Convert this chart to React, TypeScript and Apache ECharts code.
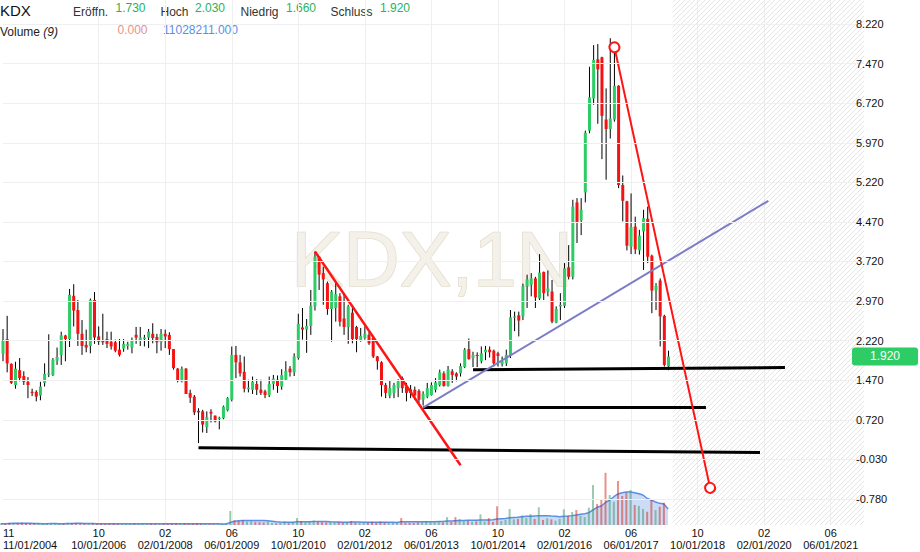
import React, { useEffect, useRef } from "react";
import * as echarts from "echarts";

const FONT = '"Liberation Sans", Arial, sans-serif';
const SYMBOL = "KDX";
const WATERMARK = "KDX,1N";
const START_YEAR = 2004;
const START_MONTH = 11;
const MONTH_COUNT = 208;
const LABEL_INDEXES = [0, 23, 39, 55, 71, 87, 103, 119, 135, 151, 167, 183, 199];
const Y_TICKS = [-0.78, -0.03, 0.72, 1.47, 2.22, 2.97, 3.72, 4.47, 5.22, 5.97, 6.72, 7.47, 8.22];
const HEADER_VOLUME = [0, 11028211];

const OPEN = [
  1.97, 2.25, 1.78, 1.38, 1.66, 1.55, 1.44, 1.25, 1.25, 1.18,
  1.42, 1.59, 1.57, 1.84, 1.95, 2.32, 2.25, 3.07, 2.80, 2.35,
  2.14, 2.12, 2.99, 2.30, 2.22, 2.25, 2.20, 2.19, 2.05, 2.07,
  2.12, 2.09, 2.33, 2.22, 2.25, 2.28, 2.35, 2.29, 2.19, 2.35,
  2.33, 2.06, 1.69, 1.45, 1.69, 1.23, 1.16, 0.89, 0.88, 0.58,
  0.87, 0.80, 0.75, 0.75, 0.90, 1.10, 1.95, 1.81, 1.63, 1.30,
  1.29, 1.40, 1.29, 1.26, 1.19, 1.40, 1.48, 1.35, 1.48, 1.69,
  1.62, 1.89, 2.47, 2.43, 2.50, 2.87, 3.81, 3.50, 3.31, 2.82,
  2.84, 3.06, 2.64, 2.48, 2.75, 2.48, 2.22, 2.27, 2.33, 2.27,
  1.92, 1.81, 1.38, 1.18, 1.23, 1.32, 1.51, 1.35, 1.30, 1.29,
  1.27, 1.10, 1.16, 1.19, 1.29, 1.38, 1.60, 1.36, 1.64, 1.60,
  1.60, 1.72, 2.06, 1.89, 1.95, 1.83, 2.00, 2.05, 2.03, 1.98,
  1.77, 1.79, 1.95, 2.66, 2.70, 2.68, 3.25, 3.28, 3.40, 3.02,
  3.52, 3.15, 3.15, 2.56, 2.87, 2.88, 3.61, 3.43, 4.84, 4.50,
  5.03, 6.20, 6.81, 7.55, 7.59, 6.41, 6.23, 6.41, 7.05, 5.17,
  4.86, 4.00, 4.38, 3.93, 4.29, 4.53, 3.83, 3.17, 3.36, 2.69,
  1.73,
];
const HIGH = [
  2.44, 2.69, 1.79, 1.82, 1.89, 1.64, 1.53, 1.31, 1.28, 1.44,
  1.79, 2.34, 1.89, 2.09, 2.39, 2.33, 3.20, 3.29, 2.99, 2.61,
  2.43, 3.02, 3.14, 2.49, 2.73, 2.39, 2.39, 2.24, 2.25, 2.25,
  2.20, 2.28, 2.48, 2.48, 2.33, 2.44, 2.55, 2.35, 2.44, 2.43,
  2.38, 2.06, 1.70, 1.73, 1.70, 1.29, 1.19, 0.94, 0.91, 0.88,
  0.92, 0.80, 0.78, 0.99, 1.15, 2.11, 2.12, 1.95, 1.92, 1.48,
  1.54, 1.49, 1.48, 1.29, 1.54, 1.57, 1.56, 1.68, 1.83, 1.74,
  1.98, 2.73, 2.84, 2.63, 3.18, 3.91, 3.82, 3.62, 3.34, 3.18,
  3.31, 3.12, 3.12, 2.90, 2.84, 2.50, 2.46, 2.49, 2.38, 2.30,
  1.93, 1.83, 1.42, 1.47, 1.42, 1.49, 1.54, 1.42, 1.38, 1.35,
  1.30, 1.26, 1.42, 1.43, 1.51, 1.67, 1.64, 1.74, 1.68, 1.62,
  1.79, 2.08, 2.26, 2.01, 2.00, 2.11, 2.12, 2.11, 2.05, 2.01,
  1.92, 2.05, 2.80, 2.77, 2.77, 3.30, 3.47, 3.50, 3.43, 3.86,
  3.53, 3.55, 3.37, 2.87, 3.12, 3.69, 4.03, 4.89, 4.92, 4.92,
  6.20, 7.41, 7.82, 7.84, 7.60, 7.00, 7.95, 7.78, 7.06, 5.35,
  4.87, 5.01, 4.57, 4.32, 4.70, 4.76, 3.85, 3.31, 3.40, 2.71,
  2.03,
];
const LOW = [
  1.83, 1.62, 1.40, 1.31, 1.45, 1.38, 1.13, 1.17, 1.07, 1.09,
  1.35, 1.53, 1.55, 1.76, 1.76, 1.83, 2.10, 2.49, 2.12, 1.95,
  2.00, 1.98, 2.16, 2.14, 2.14, 2.08, 2.05, 2.00, 1.92, 2.01,
  2.05, 1.98, 2.16, 2.12, 2.11, 2.08, 2.17, 1.98, 2.03, 2.08,
  1.95, 1.67, 1.43, 1.43, 1.21, 1.04, 0.81, 0.28, 0.48, 0.47,
  0.67, 0.67, 0.54, 0.73, 0.88, 1.07, 1.51, 1.54, 1.24, 1.24,
  1.21, 1.19, 1.19, 1.13, 1.15, 1.29, 1.23, 1.29, 1.46, 1.54,
  1.55, 1.86, 2.24, 1.99, 2.33, 2.79, 3.18, 2.90, 2.71, 2.20,
  2.58, 2.49, 2.33, 2.16, 2.17, 2.00, 2.20, 2.24, 2.14, 1.89,
  1.67, 1.16, 1.13, 1.13, 1.13, 1.15, 1.23, 1.07, 1.13, 1.10,
  1.04, 0.99, 1.13, 1.18, 1.24, 1.35, 1.35, 1.35, 1.42, 1.45,
  1.54, 1.70, 1.86, 1.72, 1.72, 1.79, 1.85, 1.90, 1.73, 1.73,
  1.73, 1.74, 1.89, 2.40, 2.30, 2.61, 2.84, 3.06, 2.84, 2.99,
  2.99, 3.06, 2.55, 2.55, 2.61, 2.84, 3.38, 3.38, 4.07, 4.22,
  4.84, 6.15, 6.69, 6.33, 5.66, 5.27, 6.05, 6.37, 5.11, 4.48,
  3.93, 3.86, 3.86, 3.85, 3.56, 3.69, 2.74, 2.80, 2.11, 1.73,
  1.66,
];
const CLOSE = [
  2.22, 1.79, 1.42, 1.69, 1.51, 1.44, 1.38, 1.24, 1.16, 1.35,
  1.59, 1.60, 1.86, 1.91, 2.32, 2.25, 3.09, 2.79, 2.35, 2.12,
  2.09, 2.99, 2.28, 2.20, 2.19, 2.16, 2.11, 2.03, 1.95, 2.16,
  2.15, 2.22, 2.28, 2.28, 2.28, 2.39, 2.27, 2.19, 2.35, 2.30,
  2.06, 1.70, 1.47, 1.69, 1.21, 1.14, 0.86, 0.86, 0.63, 0.77,
  0.84, 0.69, 0.76, 0.97, 1.13, 1.95, 1.81, 1.60, 1.31, 1.33,
  1.44, 1.29, 1.23, 1.19, 1.40, 1.50, 1.36, 1.57, 1.65, 1.62,
  1.92, 2.54, 2.43, 2.50, 2.88, 3.81, 3.47, 3.38, 2.82, 3.15,
  3.10, 2.58, 2.48, 2.87, 2.25, 2.25, 2.31, 2.35, 2.17, 1.92,
  1.83, 1.38, 1.23, 1.32, 1.38, 1.45, 1.32, 1.23, 1.23, 1.18,
  1.10, 1.21, 1.32, 1.38, 1.43, 1.62, 1.36, 1.67, 1.57, 1.54,
  1.74, 2.05, 1.87, 1.95, 1.93, 1.98, 2.05, 2.00, 1.79, 1.93,
  1.83, 1.95, 2.66, 2.68, 2.60, 3.25, 3.38, 3.40, 3.04, 3.51,
  3.12, 3.21, 2.58, 2.82, 2.90, 3.59, 3.43, 4.76, 4.46, 4.70,
  6.16, 6.83, 7.54, 7.36, 6.48, 6.23, 6.43, 7.05, 5.17, 4.87,
  4.02, 4.37, 3.95, 4.21, 4.54, 3.81, 3.17, 3.26, 2.68, 1.76,
  1.92,
];
// volume in millions of shares
const VOLUME = [
  1.3, 1.0, 1.5, 1.4, 1.2, 1.6, 1.3, 1.1, 1.2, 0.9,
  1.0, 1.4, 0.8, 0.9, 1.0, 0.8, 1.5, 1.3, 1.2, 1.0,
  0.9, 1.3, 1.1, 1.0, 0.9, 0.8, 0.9, 1.0, 0.8, 0.7,
  0.9, 0.8, 1.0, 0.9, 0.8, 0.7, 0.9, 0.8, 0.7, 0.9,
  0.8, 1.0, 1.1, 0.9, 1.2, 0.8, 0.9, 1.3, 0.8, 0.7,
  0.6, 0.5, 0.6, 0.8, 1.0, 9.7, 3.2, 2.8, 3.2, 2.4,
  2.6, 2.2, 2.0, 1.8, 2.3, 1.4, 1.2, 1.6, 2.5, 1.3,
  2.1, 4.8, 2.6, 2.0, 2.4, 3.1, 2.2, 1.9, 1.8, 2.0,
  1.7, 1.9, 1.6, 2.1, 2.8, 1.8, 1.6, 1.5, 1.7, 2.2,
  1.6, 2.4, 1.9, 1.6, 1.5, 1.8, 4.8, 1.7, 1.6, 1.5,
  1.8, 2.1, 2.8, 1.9, 2.0, 2.4, 1.8, 5.5, 2.1, 5.5,
  4.2, 2.6, 2.9, 2.2, 2.5, 7.4, 2.4, 4.8, 2.1, 13.0,
  2.8, 3.5, 11.1, 3.9, 4.2, 6.7, 4.8, 7.6, 4.2, 12.3,
  3.5, 4.6, 3.9, 3.0, 4.2, 10.9, 6.2, 9.0, 10.4, 6.4,
  5.5, 12.0, 27.7, 14.6, 17.8, 36.2, 20.8, 16.1, 30.5, 20.1,
  22.4, 24.3, 13.9, 13.2, 11.1, 9.2, 17.8, 10.4, 12.7, 15.5,
  0,
];
const VOLUME_MA = [
  0.9, 0.9, 1.1, 1.2, 1.3, 1.3, 1.2, 1.2, 1.1, 1.0,
  0.9, 0.9, 1.0, 1.0, 0.9, 0.9, 1.0, 1.1, 1.2, 1.2,
  1.1, 1.0, 1.0, 0.9, 0.9, 0.9, 0.9, 0.9, 0.9, 0.9,
  0.9, 0.8, 0.8, 0.8, 0.8, 0.8, 0.8, 0.8, 0.8, 0.8,
  0.8, 0.9, 0.9, 0.9, 0.9, 0.9, 0.9, 0.9, 0.9, 0.8,
  0.8, 0.8, 0.8, 0.7, 0.7, 1.8, 2.6, 3.0, 3.2, 3.2,
  3.2, 3.2, 3.2, 3.2, 3.0, 2.6, 2.2, 2.0, 1.9, 1.9,
  1.9, 2.2, 2.3, 2.3, 2.3, 2.4, 2.4, 2.4, 2.4, 2.2,
  2.1, 2.0, 1.9, 1.9, 2.0, 2.0, 2.0, 1.9, 1.9, 1.9,
  1.9, 1.9, 1.9, 1.9, 1.9, 1.8, 2.2, 2.2, 2.2, 2.2,
  2.2, 2.2, 2.3, 2.3, 2.3, 2.4, 2.4, 2.7, 2.7, 3.0,
  3.2, 3.2, 3.3, 3.3, 3.3, 3.4, 3.4, 3.5, 3.6, 4.2,
  4.4, 4.5, 5.0, 5.2, 5.4, 5.8, 6.0, 6.1, 6.3, 6.5,
  6.5, 6.5, 6.2, 6.0, 5.8, 6.0, 6.2, 6.5, 6.9, 7.4,
  7.8, 8.5, 10.4, 12.3, 13.2, 15.6, 17.3, 19.6, 21.5, 22.4,
  22.9, 22.8, 22.4, 21.6, 20.8, 18.4, 17.3, 15.9, 15.0, 14.6,
  11.03,
];

// user-drawn annotation lines, in [month index, price] coordinates
const RED_TREND_1 = [[75, 3.91], [110, -0.14]];
const RED_TREND_2 = [[147, 7.78], [170, -0.57]];
const PURPLE_TREND = [[101, 0.95], [184, 4.87]];
const SUPPORT_1 = [[47, 0.19], [182, 0.1]];
const SUPPORT_2 = [[101, 0.95], [169, 0.95]];
const SUPPORT_3 = [[113, 1.67], [188, 1.71]];

const GREEN = "#2dcc64";
const RED = "#f41212";

const pad2 = (n: number) => (n < 10 ? "0" + n : "" + n);
const CATEGORIES: string[] = [];
for (let k = 0; k < MONTH_COUNT; k++) {
  const m0 = START_MONTH - 1 + k;
  const y = START_YEAR + Math.floor(m0 / 12);
  const m = (m0 % 12) + 1;
  CATEGORIES.push(pad2(m) + "/01/" + y);
}

function makeHatch() {
  const c = document.createElement("canvas");
  c.width = 5;
  c.height = 5;
  const ctx = c.getContext("2d");
  if (ctx) {
    ctx.clearRect(0, 0, 5, 5);
    ctx.strokeStyle = "#e4e4e4";
    ctx.lineWidth = 1;
    ctx.beginPath();
    ctx.moveTo(0, 5);
    ctx.lineTo(5, 0);
    ctx.moveTo(-1, 1);
    ctx.lineTo(1, -1);
    ctx.moveTo(4, 6);
    ctx.lineTo(6, 4);
    ctx.stroke();
  }
  return c;
}

function buildOption() {
  const last = CLOSE.length - 1;
  const trend = (pts: number[][], color: string, width: number) => [
    { coord: pts[0], lineStyle: { color, width, type: "solid" } },
    { coord: pts[1] },
  ];
  const circleEnd = { symbol: "emptyCircle", symbolSize: 10 };

  const headerItems: any[] = [
    { t: SYMBOL, x: 0, y: 10, size: 15, color: "#111" },
    { t: "Eröffn.", x: 73, y: 11.5, size: 12, color: "#333" },
    { t: OPEN[last].toFixed(3), x: 115.5, y: 8, size: 12, color: "#27b35a" },
    { t: "Hoch", x: 160.5, y: 11.5, size: 12, color: "#333" },
    { t: HIGH[last].toFixed(3), x: 195, y: 8, size: 12, color: "#27b35a" },
    { t: "Niedrig", x: 240.5, y: 11.5, size: 12, color: "#333" },
    { t: LOW[last].toFixed(3), x: 286, y: 8, size: 12, color: "#27b35a" },
    { t: "Schluss", x: 330.5, y: 11.5, size: 12, color: "#333" },
    { t: CLOSE[last].toFixed(3), x: 380, y: 8, size: 12, color: "#27b35a" },
    { t: HEADER_VOLUME[0].toFixed(3), x: 117.5, y: 30, size: 12, color: "#e8918a" },
    { t: HEADER_VOLUME[1].toFixed(3), x: 163, y: 30, size: 12, color: "#5b8ee6" },
  ];

  const graphic: any[] = [
    {
      type: "text",
      x: 432,
      y: 259,
      z: -10,
      silent: true,
      style: {
        text: WATERMARK,
        fill: "#f4f1ea",
        stroke: "#e3dccb",
        lineWidth: 1.5,
        fontSize: 78,
        fontFamily: FONT,
        align: "center",
        verticalAlign: "middle",
      },
    },
    ...headerItems.map((h) => ({
      type: "text",
      x: h.x,
      y: h.y,
      silent: true,
      style: {
        text: h.t,
        fill: h.color,
        fontSize: h.size,
        fontFamily: FONT,
        align: "left",
        verticalAlign: "middle",
      },
    })),
    {
      type: "text",
      x: 0,
      y: 31.5,
      silent: true,
      style: {
        text: "Volume {i|(9)}",
        fill: "#222",
        fontSize: 12,
        fontFamily: FONT,
        align: "left",
        verticalAlign: "middle",
        rich: { i: { fontStyle: "italic", fontSize: 12, fontFamily: FONT, fill: "#222" } },
      },
    },
  ];

  const labelIdx = (idx: number) => LABEL_INDEXES.indexOf(idx) >= 0;

  return {
    animation: false,
    backgroundColor: "#ffffff",
    textStyle: { fontFamily: FONT },
    graphic,
    grid: [
      { left: 1, right: 56, top: 0, bottom: 27 },
      { left: 1, right: 56, top: 450, bottom: 27 },
    ],
    xAxis: [
      {
        gridIndex: 0,
        type: "category",
        data: CATEGORIES,
        boundaryGap: false,
        axisLine: { show: false },
        axisTick: { show: false },
        axisLabel: {
          interval: (idx: number) => labelIdx(idx),
          formatter: (v: string) => v.slice(0, 2) + "\n" + v,
          color: "#111",
          fontSize: 11,
          lineHeight: 12,
          fontFamily: FONT,
          margin: 2,
          alignMinLabel: "left",
        },
        splitLine: {
          show: true,
          interval: (idx: number) => idx > 0 && labelIdx(idx),
          lineStyle: { color: "#efefef", width: 1 },
        },
      },
      {
        gridIndex: 1,
        type: "category",
        data: CATEGORIES,
        boundaryGap: false,
        show: false,
      },
    ],
    yAxis: [
      {
        gridIndex: 0,
        type: "value",
        position: "right",
        min: -1.273,
        max: 8.675,
        z: 10,
        axisLine: { show: false },
        axisTick: { show: false, customValues: Y_TICKS },
        axisLabel: {
          customValues: Y_TICKS,
          formatter: (v: number) => v.toFixed(3),
          margin: -8,
          color: "#111",
          fontSize: 11,
          fontFamily: FONT,
        },
        splitLine: { show: true, lineStyle: { color: "#efefef", width: 1 } },
      },
      {
        gridIndex: 1,
        type: "value",
        min: 0,
        max: 52,
        show: false,
        splitLine: { show: false },
      },
    ],
    series: [
      {
        type: "custom",
        name: SYMBOL,
        xAxisIndex: 0,
        yAxisIndex: 0,
        z: 3,
        dimensions: ["idx", "open", "close", "low", "high"],
        encode: { x: 0, y: [1, 2, 3, 4] },
        data: OPEN.map((o, i) => [i, o, CLOSE[i], LOW[i], HIGH[i]]),
        renderItem: (params: any, api: any) => {
          const i = api.value(0);
          const o = api.value(1);
          const c = api.value(2);
          const l = api.value(3);
          const h = api.value(4);
          const pO = api.coord([i, o]);
          const pC = api.coord([i, c]);
          const pL = api.coord([i, l]);
          const pH = api.coord([i, h]);
          const w = 3;
          const top = Math.min(pO[1], pC[1]);
          const hh = Math.max(Math.abs(pO[1] - pC[1]), 1.2);
          return {
            type: "group",
            children: [
              {
                type: "line",
                shape: { x1: pH[0], y1: pH[1], x2: pL[0], y2: pL[1] },
                style: { stroke: "#000", lineWidth: 1 },
              },
              {
                type: "rect",
                shape: { x: pO[0] - w / 2, y: top, width: w, height: hh },
                style: { fill: c >= o ? GREEN : RED },
              },
            ],
          };
        },
        markArea: {
          silent: true,
          z: 0,
          itemStyle: { color: { image: makeHatch(), repeat: "repeat" } },
          data: [[{ xAxis: CLOSE.length }, { xAxis: MONTH_COUNT - 1 }]],
        },
        markLine: {
          silent: true,
          symbol: ["none", "none"],
          label: { show: false },
          emphasis: { disabled: true },
          data: [
            trend(SUPPORT_1, "#000", 3),
            trend(SUPPORT_2, "#000", 3),
            trend(SUPPORT_3, "#000", 3),
            trend(PURPLE_TREND, "#7c7cc6", 2),
            trend(RED_TREND_1, "#ff1414", 2.5),
            [
              { coord: RED_TREND_2[0], lineStyle: { color: "#ff1414", width: 2, type: "solid" }, ...circleEnd, itemStyle: { color: "#ff1414" } },
              { coord: RED_TREND_2[1], ...circleEnd, itemStyle: { color: "#ff1414" } },
            ],
            {
              yAxis: CLOSE[last],
              lineStyle: { color: "rgba(0,0,0,0)", width: 0, opacity: 1 },
              label: {
                show: true,
                position: "end",
                distance: -12,
                opacity: 1,
                formatter: CLOSE[last].toFixed(3),
                color: "#fff",
                backgroundColor: "#2ecc64",
                padding: [3, 18, 3, 18],
                borderRadius: 3,
                fontSize: 12,
                lineHeight: 12,
                fontFamily: FONT,
              },
            },
          ],
        },
      },
      {
        type: "line",
        name: "Volume MA",
        xAxisIndex: 1,
        yAxisIndex: 1,
        data: VOLUME_MA,
        showSymbol: false,
        symbol: "none",
        lineStyle: { color: "#5b8ee6", width: 1.5 },
        areaStyle: { color: "rgba(91,142,230,0.45)" },
        z: 1,
      },
      {
        type: "bar",
        name: "Volume",
        xAxisIndex: 1,
        yAxisIndex: 1,
        data: VOLUME,
        barWidth: 2,
        z: 2,
        itemStyle: {
          color: (p: any) =>
            CLOSE[p.dataIndex] >= OPEN[p.dataIndex] ? "rgba(57,150,97,0.5)" : "rgba(210,40,20,0.5)",
        },
      },
    ],
  };
}

export default function App() {
  const ref = useRef<HTMLDivElement>(null);
  useEffect(() => {
    if (!ref.current) return;
    const chart = echarts.init(ref.current, null, { renderer: "svg" });
    chart.setOption(buildOption() as any);
    return () => chart.dispose();
  }, []);
  return (
    <div
      ref={ref}
      style={{ position: "fixed", left: 0, top: 0, width: 920, height: 552, background: "#fff" }}
    />
  );
}
